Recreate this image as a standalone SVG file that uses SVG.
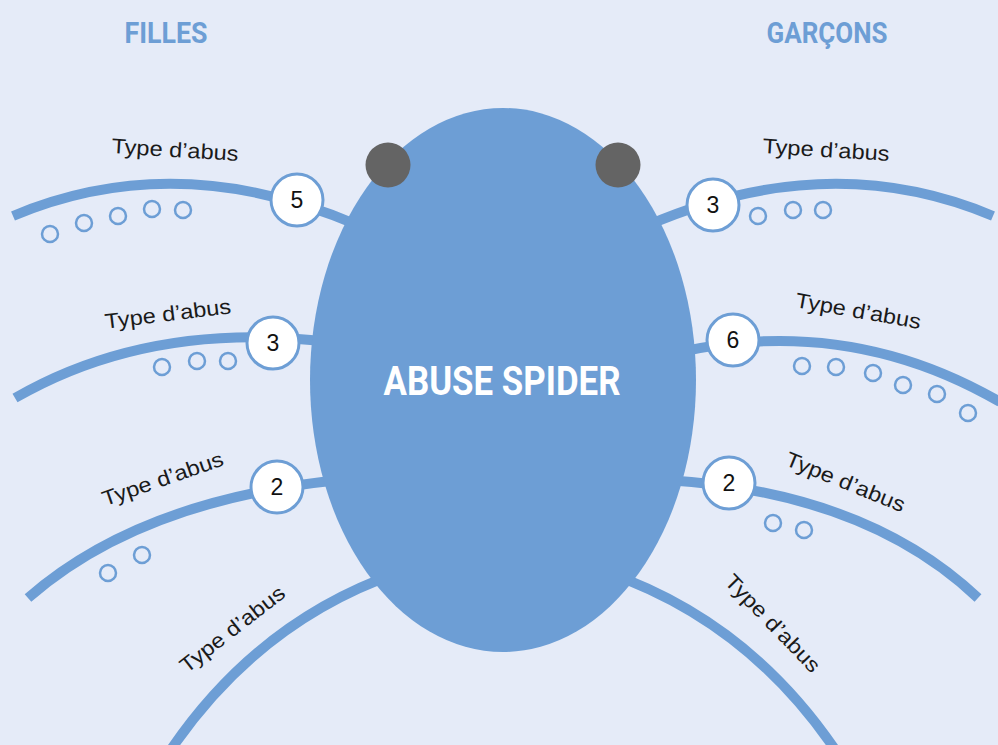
<svg xmlns="http://www.w3.org/2000/svg" width="998" height="745" viewBox="0 0 998 745">
<style>
.leg{fill:none;stroke:#6D9ED5;stroke-width:10}
.num{fill:#fff;stroke:#6D9ED5;stroke-width:3}
.dot{fill:none;stroke:#6D9ED5;stroke-width:2.5}
.lbl{font-family:"Liberation Sans",Arial,sans-serif;font-size:21px;fill:#1a1a1a;text-anchor:middle}
.n{font-family:"Liberation Sans",Arial,sans-serif;font-size:23px;fill:#111;text-anchor:middle}
.hdr{font-family:Roboto,"Liberation Sans",sans-serif;font-weight:bold;font-size:30px;fill:#6D9ED5;text-anchor:middle}
</style>
<rect width="998" height="745" fill="#E5EBF8"/>
<g id="connectors">
<path class="leg" d="M13,216 Q177,147 360,226"/>
<path class="leg" d="M15,398 Q150,320 330,342"/>
<path class="leg" d="M28,598 Q140,500 340,480"/>
<path class="leg" d="M172,748 Q260,620 400,572"/>
<path class="leg" d="M993,216 Q829,147 646,226"/>
<path class="leg" d="M1000,402 Q850,315 680,352"/>
<path class="leg" d="M978,598 Q866,492 666,480"/>
<path class="leg" d="M834,748 Q746,620 606,572"/>
</g>
<g id="body">
<ellipse cx="503" cy="380" rx="193" ry="272" fill="#6D9ED5"/>
<circle cx="388" cy="165" r="22.5" fill="#646464"/>
<circle cx="618" cy="165" r="22.5" fill="#646464"/>
<text x="502" y="395" textLength="237" lengthAdjust="spacingAndGlyphs" style="font-family:Roboto,'Liberation Sans',sans-serif;font-weight:bold;font-size:40px;fill:#fff;text-anchor:middle">ABUSE SPIDER</text>
</g>
<g id="filles"><text class="hdr" x="166" y="43" textLength="83" lengthAdjust="spacingAndGlyphs">FILLES</text></g>
<g id="garcons"><text class="hdr" x="827" y="43" textLength="121" lengthAdjust="spacingAndGlyphs">GARÇONS</text></g>
<g id="leg-l1">
<circle class="dot" cx="50" cy="234" r="8"/><circle class="dot" cx="84" cy="223" r="8"/><circle class="dot" cx="118" cy="216" r="8"/><circle class="dot" cx="152" cy="209" r="8"/><circle class="dot" cx="183" cy="210" r="8"/>
<circle class="num" cx="297" cy="200" r="26"/><text class="n" x="297" y="208">5</text>
<text class="lbl" transform="translate(175,151) rotate(3.5)" y="6" textLength="127" lengthAdjust="spacingAndGlyphs">Type d’abus</text>
</g>
<g id="leg-l2">
<circle class="dot" cx="162" cy="367" r="8"/><circle class="dot" cx="197" cy="361" r="8"/><circle class="dot" cx="228" cy="361" r="8"/>
<circle class="num" cx="273" cy="343" r="26"/><text class="n" x="273" y="351">3</text>
<text class="lbl" transform="translate(168,315) rotate(-7)" y="6" textLength="127" lengthAdjust="spacingAndGlyphs">Type d’abus</text>
</g>
<g id="leg-l3">
<circle class="dot" cx="108" cy="573" r="8"/><circle class="dot" cx="142" cy="555" r="8"/>
<circle class="num" cx="277" cy="487" r="26"/><text class="n" x="277" y="495">2</text>
<text class="lbl" transform="translate(163,480) rotate(-19)" y="6" textLength="127" lengthAdjust="spacingAndGlyphs">Type d’abus</text>
</g>
<g id="leg-l4">
<text class="lbl" transform="translate(233,630) rotate(-38)" y="6" textLength="127" lengthAdjust="spacingAndGlyphs">Type d’abus</text>
</g>
<g id="leg-r1">
<circle class="dot" cx="758" cy="216" r="8"/><circle class="dot" cx="793" cy="210" r="8"/><circle class="dot" cx="823" cy="210" r="8"/>
<circle class="num" cx="713" cy="205" r="26"/><text class="n" x="713" y="213">3</text>
<text class="lbl" transform="translate(826,151) rotate(3.5)" y="6" textLength="127" lengthAdjust="spacingAndGlyphs">Type d’abus</text>
</g>
<g id="leg-r2">
<circle class="dot" cx="802" cy="366" r="8"/><circle class="dot" cx="836" cy="367" r="8"/><circle class="dot" cx="873" cy="373" r="8"/><circle class="dot" cx="903" cy="385" r="8"/><circle class="dot" cx="937" cy="394" r="8"/><circle class="dot" cx="968" cy="413" r="8"/>
<circle class="num" cx="733" cy="340" r="26"/><text class="n" x="733" y="348">6</text>
<text class="lbl" transform="translate(858,312) rotate(10)" y="6" textLength="127" lengthAdjust="spacingAndGlyphs">Type d’abus</text>
</g>
<g id="leg-r3">
<circle class="dot" cx="773" cy="523" r="8"/><circle class="dot" cx="804" cy="530" r="8"/>
<circle class="num" cx="729" cy="483" r="26"/><text class="n" x="729" y="491">2</text>
<text class="lbl" transform="translate(845,483) rotate(22)" y="6" textLength="127" lengthAdjust="spacingAndGlyphs">Type d’abus</text>
</g>
<g id="leg-r4">
<text class="lbl" transform="translate(772,624) rotate(46)" y="6" textLength="127" lengthAdjust="spacingAndGlyphs">Type d’abus</text>
</g>
</svg>
